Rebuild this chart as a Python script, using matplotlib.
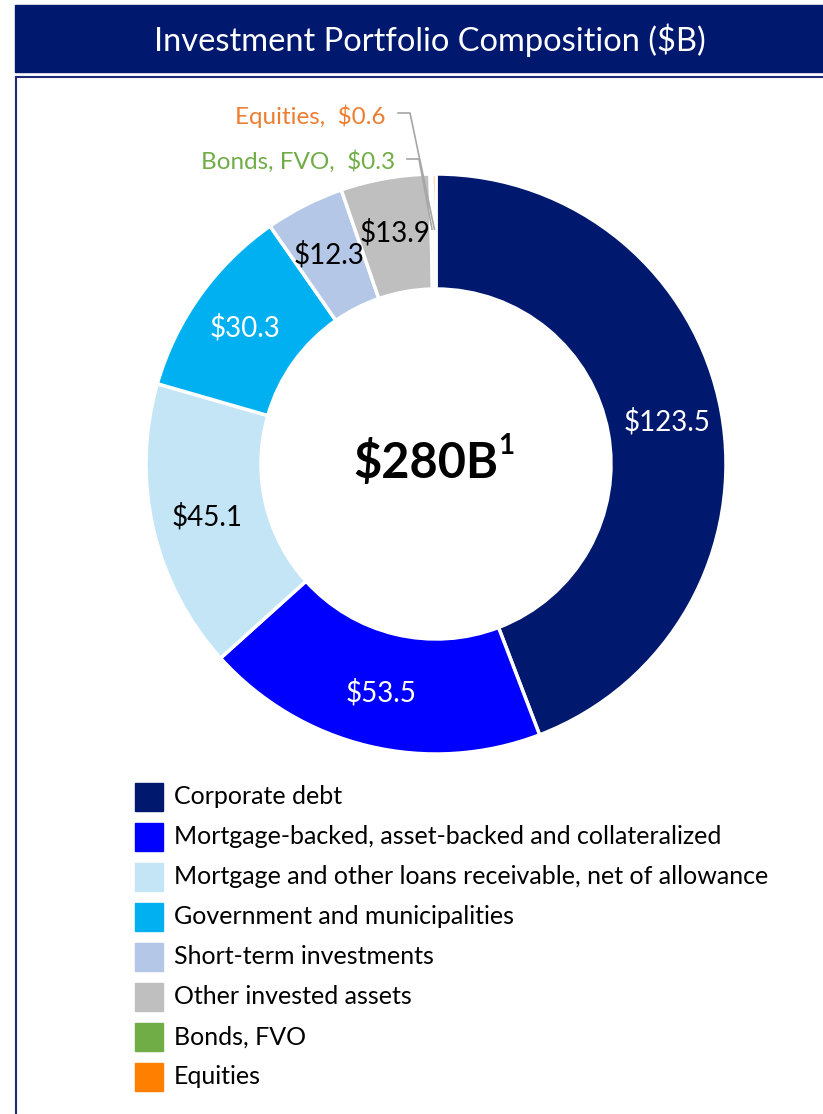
import numpy as np
import matplotlib
matplotlib.use('Agg')
import matplotlib.pyplot as plt
from matplotlib.patches import Rectangle

plt.rcParams['font.family'] = ['Lato', 'DejaVu Sans']

categories = ['Corporate debt',
              'Mortgage-backed, asset-backed and collateralized',
              'Mortgage and other loans receivable, net of allowance',
              'Government and municipalities',
              'Short-term investments',
              'Other invested assets',
              'Bonds, FVO',
              'Equities']
values = [123.5, 53.5, 45.1, 30.3, 12.3, 13.9, 0.3, 0.6]
colors = ['#00196E', '#0000FF', '#C4E5F6', '#00B0F0', '#B4C7E7', '#BFBFBF', '#70AD47', '#FF8000']
label_colors = ['white', 'white', 'black', 'white', 'black', 'black', '#70AD47', '#ED7D31']
total_label = '$280B'
title = 'Investment Portfolio Composition ($B)'

NAVY = '#00196E'
W, H = 823, 1114
CX, CY = 436, 464          # donut centre, pixels from top
R, R_IN = 290, 175

fig = plt.figure(figsize=(W / 100, H / 100), dpi=100)
ax = fig.add_axes([0, 0, 1, 1])


def top(y):
    # pixel row measured from the top -> data y
    return H - y


wedges, _ = ax.pie(values, colors=colors, startangle=90, counterclock=False,
                   radius=R, center=(CX, top(CY)),
                   wedgeprops=dict(width=R - R_IN, edgecolor='white', linewidth=2.5))
ax.set_xlim(0, W)
ax.set_ylim(0, H)
ax.set_aspect('equal')
ax.axis('off')

# header band + box outline
ax.add_patch(Rectangle((15, top(72)), W - 15, 67, color=NAVY, zorder=0))
ax.plot([16, 16], [top(77), 0], color='#1F2A78', lw=1.5)
ax.plot([16, W], [top(77), top(77)], color='#1F2A78', lw=1.5)
ax.text(430, top(40), title, color='white', fontsize=23.5, ha='center', va='center')

# value labels inside the ring
for w, v, c in zip(wedges[:6], values[:6], label_colors[:6]):
    ang = np.deg2rad((w.theta1 + w.theta2) / 2)
    x = w.center[0] + 0.81 * w.r * np.cos(ang)
    y = w.center[1] + 0.81 * w.r * np.sin(ang)
    ax.text(x, y, f'${v:.1f}', color=c, fontsize=20, ha='center', va='center')

# small slices labelled outside with leader lines
outside = [(6, 395, 162), (7, 386, 116)]
for i, tx, ty in outside:
    w = wedges[i]
    ang = np.deg2rad((w.theta1 + w.theta2) / 2)
    x = w.center[0] + 0.81 * w.r * np.cos(ang)
    y = w.center[1] + 0.81 * w.r * np.sin(ang)
    name = categories[i]
    ax.text(tx, top(ty), f'{name},  ${values[i]:.1f}', color=label_colors[i],
            fontsize=17.5, ha='right', va='center')
    ax.plot([tx + 12, tx + 24, x], [top(ty - 3), top(ty - 3), y],
            color='#A6A6A6', lw=1.2)

# centre total
t = ax.text(CX - 10, top(CY - 2), total_label, fontsize=35, fontweight='bold',
            ha='center', va='center')
ax.annotate('1', xy=(1, 1), xycoords=t, xytext=(0, 4), textcoords='offset points',
            fontsize=20, fontweight='bold', ha='left', va='top')

# legend
for k, (name, col) in enumerate(zip(categories, colors)):
    yc = 797 + 40 * k
    ax.add_patch(Rectangle((135, top(yc + 14)), 28, 28, color=col))
    ax.text(174, top(yc), name, fontsize=18, ha='left', va='center')

fig.savefig('out.png', dpi=100)
